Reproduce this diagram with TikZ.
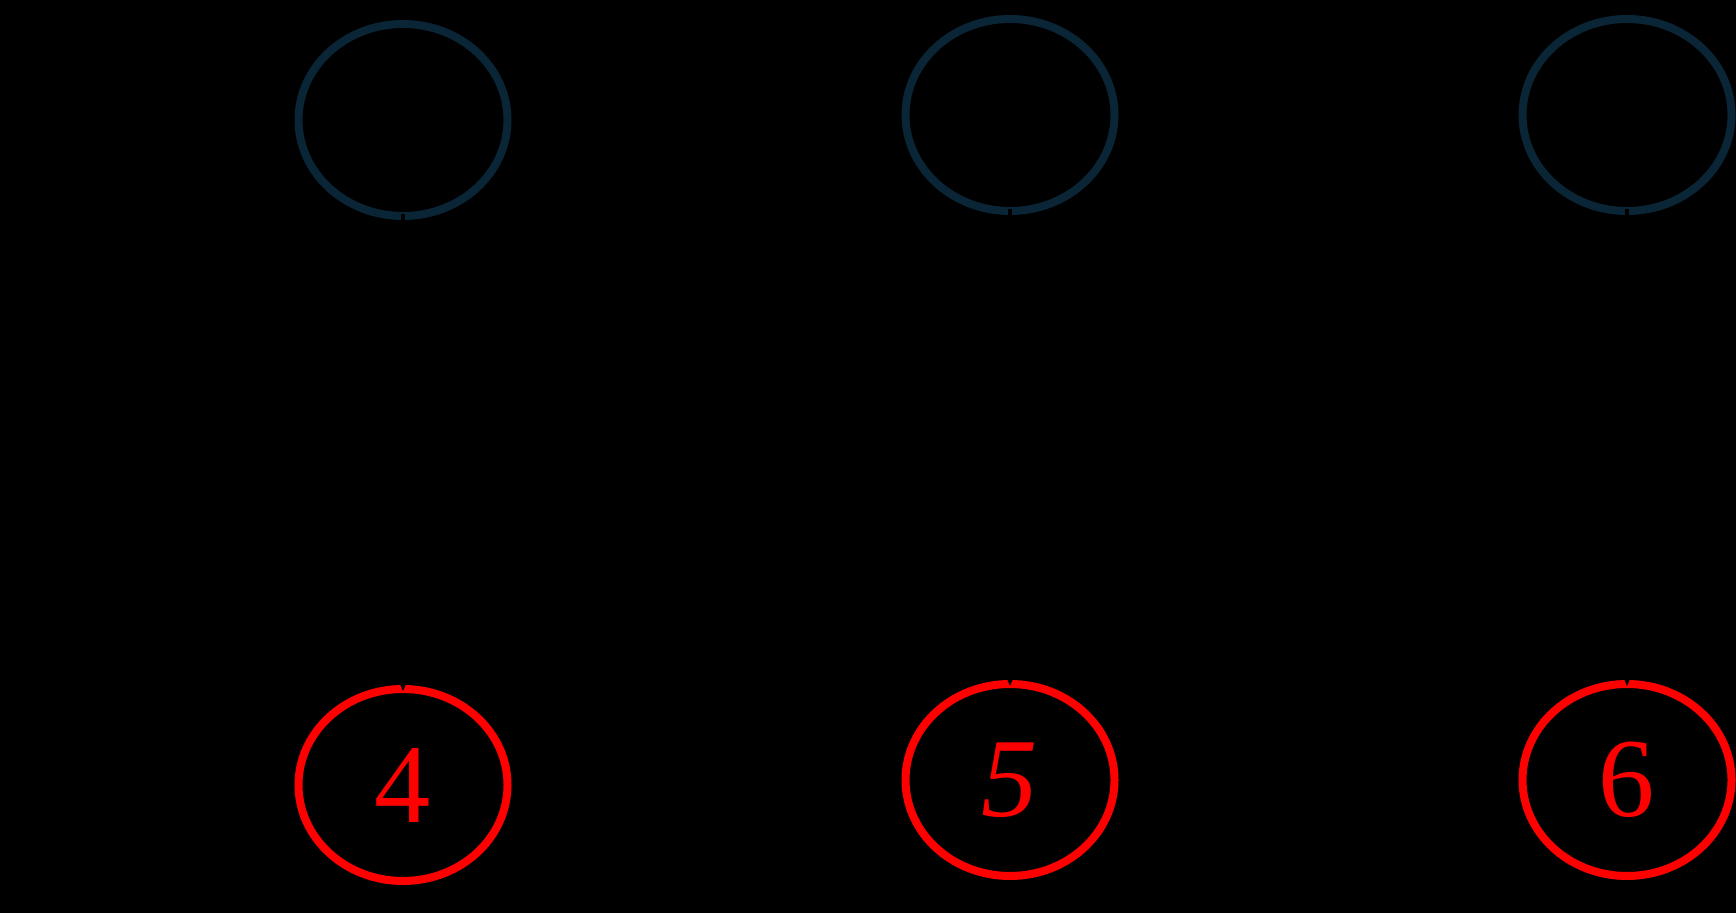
\documentclass[tikz,border=0pt]{standalone}
\usepackage{fontspec}
\setmainfont{Liberation Serif}
\usetikzlibrary{shapes.geometric,arrows.meta}
\definecolor{navy}{RGB}{10,37,54}
\begin{document}
\begin{tikzpicture}[auto, node distance=6.65cm, line width=0.08cm,
    top/.style={ellipse, draw=navy, minimum width=2.09cm, minimum height=1.92cm, inner sep=0pt},
    bottom/.style={ellipse, draw=red, text=red, minimum width=2.09cm, minimum height=1.92cm, inner sep=0pt, font=\fontsize{32}{36}\selectfont},
    edge/.style={draw=black, line width=0.04cm, shorten <=-0.06cm, shorten >=-0.06cm, -{Stealth[length=0.14cm,width=0.12cm]}}]
  \fill[black] (0,0) rectangle (17.36,9.13);
  \useasboundingbox (0,0) rectangle (17.36,9.13);
  % Nodos
  \node[top] (n1) at (4.03,7.93) {};
  \node[top] (n2) [right of=n1, xshift=-0.58cm, yshift=0.05cm] {};
  \node[top] (n3) [right of=n2, xshift=-0.48cm] {};
  \node[bottom] (n4) [below of=n1] {4};
  \node[bottom] (n5) [below of=n2] {\itshape 5};
  \node[bottom] (n6) [below of=n3] {6};

  % Aristas
  \draw[edge] (n1) -- (n4);
  \draw[edge] (n2) -- (n5);
  \draw[edge] (n3) -- (n6);
\end{tikzpicture}
\end{document}
